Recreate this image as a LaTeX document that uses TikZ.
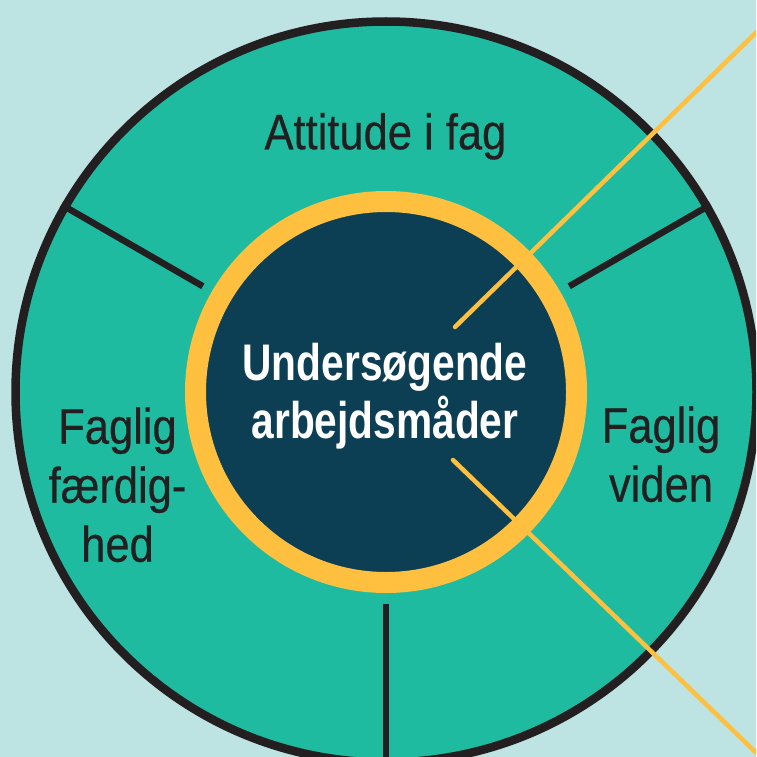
\documentclass[tikz,border=0pt]{standalone}
\usepackage{fontspec}
\newfontfamily\labelfont{Liberation Sans}[FakeStretch=0.87, FakeBold=0.4]
\newfontfamily\corefont{Liberation Sans}[FakeStretch=0.79]
\definecolor{bg}{HTML}{BEE3E3}
\definecolor{teal}{HTML}{1EBBA0}
\definecolor{navy}{HTML}{0C3E54}
\definecolor{sun}{HTML}{FEC03E}
\definecolor{ink}{HTML}{231F20}
\tikzset{
  wheelstyle/.style={circle, inner sep=0pt, minimum size=741pt, fill=teal, draw=ink, line width=8.5pt},
  corestyle/.style={circle, inner sep=0pt, minimum size=381pt, fill=navy, draw=sun, line width=21pt},
  divider/.style={draw=ink, line width=6.5pt, shorten <=10.5pt},
  ray/.style={draw=sun, line width=4.5pt, line cap=round},
  sector/.style={text=ink, inner sep=0pt, align=center, font=\labelfont\fontsize{50}{59}\selectfont},
  coretext/.style={text=white, inner sep=0pt, align=center, font=\corefont\bfseries\fontsize{51.5}{58}\selectfont}
}
\begin{document}
\begin{tikzpicture}[x=1pt, y=-1pt]
\useasboundingbox (0,0) rectangle (756,757);
\fill[bg] (0,0) rectangle (756,757);
\begin{scope}
\clip (0,0) rectangle (756,757);
\node[wheelstyle] (wheel) at (386,392) {};
\node[corestyle] (core) at (386,392) {};
\draw[divider] (core.30) -- (wheel.30);
\draw[divider] (core.150) -- (wheel.150);
\draw[divider] (core.270) -- (wheel.270);
\coordinate (r1s) at (455,327);
\coordinate (r1e) at (772,17);
\coordinate (r2s) at (453,460);
\coordinate (r2e) at (772,768);
\draw[ray] (r1s) -- (r1e);
\draw[ray] (r2s) -- (r2e);
\end{scope}
\node[coretext, anchor=base] (coretitle) at (385,438) {Undersøgende\\arbejdsmåder};
\node[sector, anchor=base] (attitude) at (385.4,149.3) {Attitude i fag};
\node[sector, anchor=base] (skill) at (117.5,561.7) {Faglig\\færdig-\\hed};
\node[sector, anchor=base] (knowledge) at (661,501.7) {Faglig\\viden};
\end{tikzpicture}
\end{document}
